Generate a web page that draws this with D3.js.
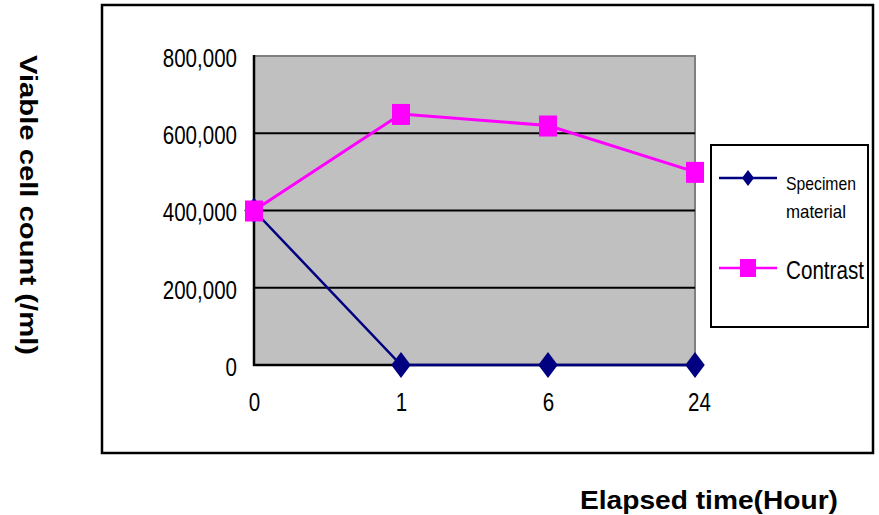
<!DOCTYPE html>
<html><head><meta charset="utf-8">
<script src="https://cdn.jsdelivr.net/npm/d3@7"></script>
<style>body{margin:0;background:#fff}svg{display:block}</style>
</head><body>
<svg id="c" width="879" height="515"></svg>
<script>
const categories = ["0", "1", "6", "24"];
const specimen = [400000, 0, 0, 0];
const contrast = [400000, 650000, 620000, 500000];
const yTicks = [0, 200000, 400000, 600000, 800000];
const seriesNames = ["Specimen material", "Contrast"];

const svg = d3.select("#c");
const font = "'Liberation Sans', Arial, sans-serif";
const L = 254, R = 695, T = 56, B = 365;

function condense(sel, factor) {
  sel.each(function () {
    const w = this.getComputedTextLength();
    d3.select(this).attr("textLength", w * factor).attr("lengthAdjust", "spacingAndGlyphs");
  });
}

// outer frame
svg.append("rect").attr("x", 102).attr("y", 5).attr("width", 771).attr("height", 448)
  .attr("fill", "#fff").attr("stroke", "#000").attr("stroke-width", 2.5);

const x = d3.scalePoint().domain(categories).range([L, R]);
const y = d3.scaleLinear().domain([0, 800000]).range([B, T]);

// plot area
svg.append("rect").attr("x", L).attr("y", T).attr("width", R - L).attr("height", B - T)
  .attr("fill", "#c0c0c0").attr("stroke", "#808080").attr("stroke-width", 2);

// gridlines
svg.append("g").selectAll("line").data(yTicks.filter(d => d > 0 && d < 800000)).join("line")
  .attr("x1", L).attr("x2", R).attr("y1", d => y(d)).attr("y2", d => y(d))
  .attr("stroke", "#000").attr("stroke-width", 2.2);

// axes lines (left & bottom black)
svg.append("line").attr("x1", L).attr("x2", L).attr("y1", T - 1).attr("y2", B + 1).attr("stroke", "#000").attr("stroke-width", 2.5);
svg.append("line").attr("x1", L - 1).attr("x2", R).attr("y1", B).attr("y2", B).attr("stroke", "#000").attr("stroke-width", 2.5);

// y axis labels
const yAxis = d3.axisLeft(y).tickValues(yTicks).tickSize(0).tickPadding(17)
  .tickFormat(d3.format(","));
const ya = svg.append("g").attr("transform", `translate(${L},0)`).call(yAxis);
ya.select(".domain").remove();
ya.selectAll("text").attr("font-family", font).attr("font-size", 26).attr("fill", "#000").attr("dy", "0.40em")
  .call(condense, 0.79);

// x axis labels
const xAxis = d3.axisBottom(x).tickSize(0).tickPadding(28);
const xa = svg.append("g").attr("transform", `translate(0,${B})`).call(xAxis);
xa.select(".domain").remove();
xa.selectAll("text").attr("font-family", font).attr("font-size", 26).attr("fill", "#000")
  .call(condense, 0.79);
xa.selectAll(".tick").filter(d => d === "24").select("text").attr("dx", 4);

// lines
const line = d3.line().x((d, i) => x(categories[i])).y(d => y(d));
svg.append("path").datum(specimen).attr("d", line).attr("fill", "none").attr("stroke", "#000080").attr("stroke-width", 2.5);
svg.append("path").datum(contrast).attr("d", line).attr("fill", "none").attr("stroke", "#ff00ff").attr("stroke-width", 3);

const diamond = (s) => `M0,${-s}L${s * 0.75},0L0,${s}L${-s * 0.75},0Z`;
svg.append("g").selectAll("path").data(specimen).join("path")
  .attr("transform", (d, i) => `translate(${x(categories[i])},${y(d)})`)
  .attr("d", diamond(13)).attr("fill", "#000080");
svg.append("g").selectAll("rect").data(contrast).join("rect")
  .attr("x", (d, i) => x(categories[i]) - 9).attr("y", d => y(d) - 10)
  .attr("width", 18).attr("height", 21).attr("fill", "#ff00ff");

// legend
svg.append("rect").attr("x", 711).attr("y", 145).attr("width", 157).attr("height", 182)
  .attr("fill", "#fff").attr("stroke", "#000").attr("stroke-width", 2);
svg.append("line").attr("x1", 719).attr("x2", 777).attr("y1", 178).attr("y2", 178).attr("stroke", "#000080").attr("stroke-width", 2.5);
svg.append("path").attr("transform", "translate(748,178)").attr("d", diamond(8)).attr("fill", "#000080");
const words = seriesNames[0].split(" ");
svg.append("text").attr("x", 786).attr("y", 190).attr("font-family", font).attr("font-size", 19)
  .attr("textLength", 70).attr("lengthAdjust", "spacingAndGlyphs").text(words[0]);
svg.append("text").attr("x", 786).attr("y", 218).attr("font-family", font).attr("font-size", 19)
  .attr("textLength", 60).attr("lengthAdjust", "spacingAndGlyphs").text(words[1]);
svg.append("line").attr("x1", 719).attr("x2", 777).attr("y1", 268).attr("y2", 268).attr("stroke", "#ff00ff").attr("stroke-width", 2.5);
svg.append("rect").attr("x", 740).attr("y", 259).attr("width", 16).attr("height", 18).attr("fill", "#ff00ff");
svg.append("text").attr("x", 786).attr("y", 279).attr("font-family", font).attr("font-size", 25)
  .attr("textLength", 78).attr("lengthAdjust", "spacingAndGlyphs").text(seriesNames[1]);

// axis titles
svg.append("text").attr("transform", "translate(20,205) rotate(90)").attr("text-anchor", "middle")
  .attr("font-family", font).attr("font-weight", "bold").attr("font-size", 24)
  .attr("textLength", 300).attr("lengthAdjust", "spacingAndGlyphs")
  .text("Viable cell count (/ml)");
svg.append("text").attr("x", 709).attr("y", 509).attr("text-anchor", "middle")
  .attr("font-family", font).attr("font-weight", "bold").attr("font-size", 26)
  .attr("textLength", 258).attr("lengthAdjust", "spacingAndGlyphs")
  .text("Elapsed time(Hour)");
</script>
</body></html>
